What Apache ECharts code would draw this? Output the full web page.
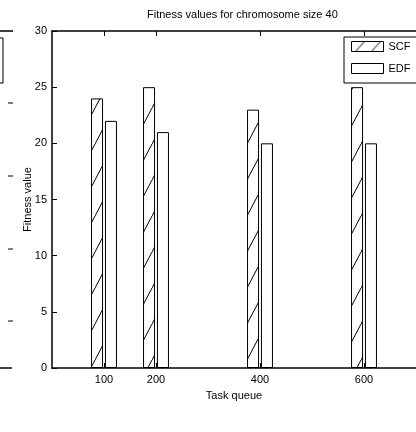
<!DOCTYPE html>
<html>
<head>
<meta charset="utf-8">
<script src="https://cdn.jsdelivr.net/npm/echarts@6/dist/echarts.min.js"></script>
<style>
  html, body { margin: 0; padding: 0; background: #fff; }
  #chart { width: 416px; height: 432px; }
</style>
</head>
<body>
<div id="chart"></div>
<script>
// task queue sizes (x positions) and fitness values per method
const taskQueue = [100, 200, 400, 600];
const scfValues = [24, 25, 23, 25];
const edfValues = [22, 21, 20, 20];
const yTicks = [0, 5, 10, 15, 20, 25, 30];

const FONT = '"Liberation Sans", Arial, sans-serif';

// diagonal hatch used for the SCF bars (w x h tile, one slanted line)
function hatch(w, h, x0) {
  const c = document.createElement('canvas');
  c.width = w;
  c.height = h;
  const ctx = c.getContext('2d');
  ctx.strokeStyle = '#000';
  ctx.lineWidth = 1;
  ctx.beginPath();
  ctx.moveTo(x0 - w, h); ctx.lineTo(x0 - w + h / 36 * 19, 0);
  ctx.moveTo(x0, h); ctx.lineTo(x0 + h / 36 * 19, 0);
  ctx.stroke();
  return c;
}

const barHatch = hatch(19, 36, 0);
const legendHatch = (function () {
  const c = document.createElement('canvas');
  c.width = 16;
  c.height = 10;
  const ctx = c.getContext('2d');
  ctx.strokeStyle = '#000';
  ctx.lineWidth = 1;
  ctx.beginPath();
  ctx.moveTo(4, 10); ctx.lineTo(13, 0);
  ctx.stroke();
  return c;
})();

const chart = echarts.init(document.getElementById('chart'), null, { renderer: 'canvas' });

const axisLine = { show: true, lineStyle: { color: '#000', width: 1.5 } };

const option = {
  backgroundColor: '#fff',
  animation: false,
  textStyle: { fontFamily: FONT },
  title: {
    text: 'Fitness values for chromosome size 40',
    left: 142,
    top: 4,
    textStyle: { fontSize: 11, fontWeight: 'normal', color: '#000', fontFamily: FONT }
  },
  legend: {
    orient: 'vertical',
    left: 344,
    top: 37,
    padding: [4, 40, 9, 7],
    itemWidth: 32,
    itemHeight: 10,
    itemGap: 11,
    borderColor: '#000',
    borderWidth: 1,
    icon: 'rect',
    itemStyle: { borderColor: '#000', borderWidth: 1 },
    textStyle: { fontSize: 11, color: '#000', fontFamily: FONT },
    data: [
      { name: 'SCF', itemStyle: { color: { image: legendHatch, repeat: 'repeat' } } },
      { name: 'EDF' }
    ]
  },
  grid: { left: 52, top: 31, width: 373, height: 337 },
  xAxis: [
    {
      type: 'value',
      min: 0,
      max: 700,
      name: 'Task queue',
      nameLocation: 'middle',
      nameGap: 22,
      nameTextStyle: { fontSize: 11, color: '#000', fontFamily: FONT },
      axisLine: axisLine,
      splitLine: { show: false },
      axisTick: { show: true, inside: true, length: 5, customValues: taskQueue, lineStyle: { color: '#000' } },
      axisLabel: { customValues: taskQueue, fontSize: 11, color: '#000', margin: 6, fontFamily: FONT }
    },
    {
      type: 'value',
      position: 'top',
      min: 0,
      max: 700,
      axisLine: axisLine,
      splitLine: { show: false },
      axisTick: { show: true, inside: true, length: 5, customValues: taskQueue, lineStyle: { color: '#000' } },
      axisLabel: { show: false }
    }
  ],
  yAxis: {
    type: 'value',
    min: 0,
    max: 30,
    interval: 5,
    name: 'Fitness value',
    nameLocation: 'middle',
    nameGap: 19,
    nameMoveOverlap: false,
    nameTextStyle: { fontSize: 11, color: '#000', fontFamily: FONT },
    axisLine: axisLine,
    splitLine: { show: false },
    axisTick: { show: true, inside: true, length: 5, lineStyle: { color: '#000' } },
    axisLabel: { customValues: yTicks, fontSize: 11, color: '#000', margin: 5, fontFamily: FONT }
  },
  series: [
    {
      name: 'SCF',
      type: 'bar',
      barWidth: 12,
      barGap: '16%',
      data: taskQueue.map((x, i) => [x, scfValues[i]]),
      itemStyle: { color: { image: barHatch, repeat: 'repeat' }, borderColor: '#000', borderWidth: 1 }
    },
    {
      name: 'EDF',
      type: 'bar',
      barWidth: 12,
      barGap: '16%',
      data: taskQueue.map((x, i) => [x, edfValues[i]]),
      itemStyle: { color: '#fff', borderColor: '#000', borderWidth: 1 }
    }
  ],
  // edge of the neighbouring plot that is cut off on the left
  graphic: [
    { type: 'line', shape: { x1: 0, y1: 31, x2: 13, y2: 31 }, style: { stroke: '#000', lineWidth: 1.5 } },
    { type: 'line', shape: { x1: 0, y1: 368, x2: 12, y2: 368 }, style: { stroke: '#000', lineWidth: 1.5 } },
    { type: 'rect', shape: { x: -40, y: 38, width: 43, height: 45 }, style: { fill: 'none', stroke: '#000', lineWidth: 1 } },
    { type: 'line', shape: { x1: 8, y1: 103, x2: 13, y2: 103 }, style: { stroke: '#000', lineWidth: 1 } },
    { type: 'line', shape: { x1: 8, y1: 176, x2: 13, y2: 176 }, style: { stroke: '#000', lineWidth: 1 } },
    { type: 'line', shape: { x1: 8, y1: 249, x2: 13, y2: 249 }, style: { stroke: '#000', lineWidth: 1 } },
    { type: 'line', shape: { x1: 8, y1: 321, x2: 13, y2: 321 }, style: { stroke: '#000', lineWidth: 1 } }
  ]
};

chart.setOption(option);
</script>
</body>
</html>
